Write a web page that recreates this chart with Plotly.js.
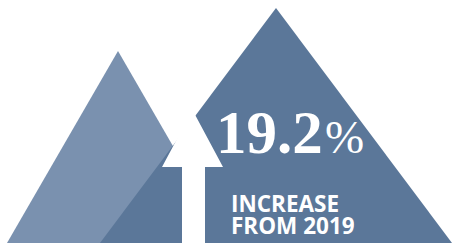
<!DOCTYPE html>
<html>
<head>
<meta charset="utf-8">
<script src="https://cdn.plot.ly/plotly-3.0.1.min.js"></script>
<style>html,body{margin:0;padding:0;background:#fff;}#chart{width:458px;height:243px;}</style>
</head>
<body>
<div id="chart"></div>
<script>
// Shapes (in chart units matching the 458x243 canvas)
const lightMountainX = [7, 118, 229, 7];
const lightMountainY = [243, 51, 243, 243];
const darkMountainX = [100, 276, 452, 100];
const darkMountainY = [243, 8, 243, 243];
const arrowX = [182, 182, 162, 192.5, 223, 205, 205, 182];
const arrowY = [243, 167, 167, 110, 167, 167, 243, 243];

const valueLabel = ["19.2"];
const unitLabel = ["%"];
const captionLines = ["INCREASE", "FROM 2019"];

const lightColor = "#7a91af";
const darkColor = "#5b7799";

const traces = [
  {x: lightMountainX, y: lightMountainY, type: "scatter", mode: "lines", fill: "toself",
   fillcolor: lightColor, line: {width: 0, color: lightColor}, hoverinfo: "skip"},
  {x: darkMountainX, y: darkMountainY, type: "scatter", mode: "lines", fill: "toself",
   fillcolor: darkColor, line: {width: 0, color: darkColor}, hoverinfo: "skip"},
  {x: arrowX, y: arrowY, type: "scatter", mode: "lines", fill: "toself",
   fillcolor: "#ffffff", line: {width: 0, color: "#ffffff"}, hoverinfo: "skip"}
];

const annotations = [
  {x: 324, y: 132, xref: "x", yref: "y", xanchor: "right", yanchor: "middle", showarrow: false,
   borderpad: 0, height: 46,
   text: "<b>" + valueLabel[0] + "</b>", font: {family: "Liberation Serif", size: 61, color: "#ffffff"}},
  {x: 324, y: 137, xref: "x", yref: "y", xanchor: "left", yanchor: "middle", showarrow: false,
   borderpad: 0, height: 36,
   text: unitLabel[0], font: {family: "Liberation Serif", size: 47, color: "#ffffff"}},
  {x: 230, y: 203, xref: "x", yref: "y", xanchor: "left", yanchor: "middle", showarrow: false,
   borderpad: 0, height: 18,
   text: "<b>" + captionLines[0] + "</b>", font: {family: "Open Sans", size: 22.5, color: "#ffffff"}},
  {x: 230, y: 225, xref: "x", yref: "y", xanchor: "left", yanchor: "middle", showarrow: false,
   borderpad: 0, height: 18,
   text: "<b>" + captionLines[1] + "</b>", font: {family: "Open Sans", size: 22.5, color: "#ffffff"}}
];

const layout = {
  width: 458, height: 243,
  margin: {l: 0, r: 0, t: 0, b: 0, pad: 0},
  paper_bgcolor: "#ffffff", plot_bgcolor: "#ffffff",
  showlegend: false,
  xaxis: {range: [0, 458], visible: false, fixedrange: true},
  yaxis: {range: [243, 0], visible: false, fixedrange: true},
  annotations: annotations
};

Plotly.newPlot("chart", traces, layout, {displayModeBar: false, staticPlot: true});
</script>
</body>
</html>
